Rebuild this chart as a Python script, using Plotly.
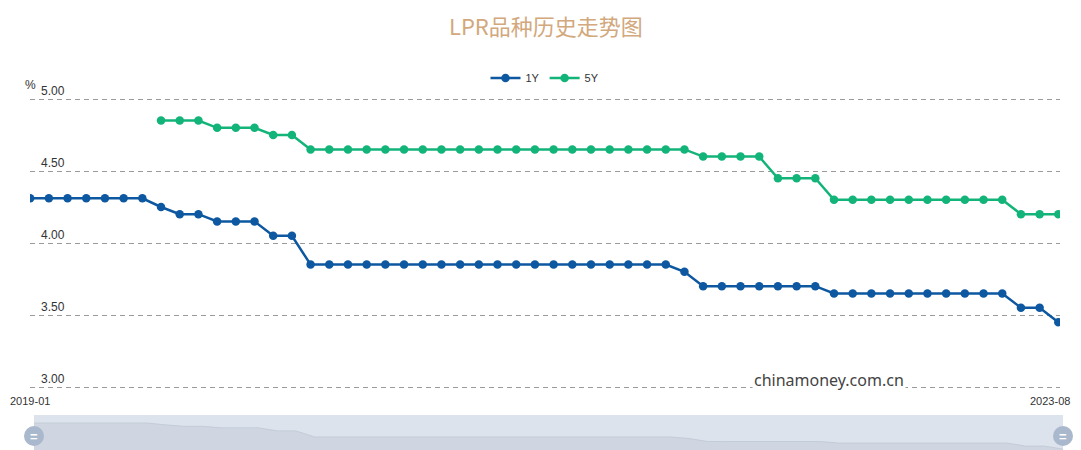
import pandas as pd
import plotly.graph_objects as go

# page body has an 8px default margin: figure is sized to fit the 1081x450 window
OFF = 8
W, H = 1081 - OFF, 450 - OFF


def px(x):
    return (x - OFF) / W


def py(y):
    return 1 - (y - OFF) / H


months = [d.strftime("%Y-%m") for d in pd.date_range("2019-01-01", "2023-08-01", freq="MS")]

lpr_1y = [4.31, 4.31, 4.31, 4.31, 4.31, 4.31, 4.31,
          4.25, 4.20, 4.20, 4.15, 4.15, 4.15, 4.05, 4.05,
          3.85, 3.85, 3.85, 3.85, 3.85, 3.85, 3.85, 3.85, 3.85, 3.85,
          3.85, 3.85, 3.85, 3.85, 3.85, 3.85, 3.85, 3.85, 3.85, 3.85,
          3.80,
          3.70, 3.70, 3.70, 3.70, 3.70, 3.70, 3.70,
          3.65, 3.65, 3.65, 3.65, 3.65, 3.65, 3.65, 3.65, 3.65, 3.65,
          3.55, 3.55, 3.45]

lpr_5y = [None, None, None, None, None, None, None,
          4.85, 4.85, 4.85, 4.80, 4.80, 4.80, 4.75, 4.75,
          4.65, 4.65, 4.65, 4.65, 4.65, 4.65, 4.65, 4.65, 4.65, 4.65,
          4.65, 4.65, 4.65, 4.65, 4.65, 4.65, 4.65, 4.65, 4.65, 4.65,
          4.65,
          4.60, 4.60, 4.60, 4.60, 4.45, 4.45, 4.45,
          4.30, 4.30, 4.30, 4.30, 4.30, 4.30, 4.30, 4.30, 4.30, 4.30,
          4.20, 4.20, 4.20]

y_ticks = [3.00, 3.50, 4.00, 4.50, 5.00]
y_tick_text = ["3.00", "3.50", "4.00", "4.50", "5.00"]
x_tick_vals = [months[0], months[-1]]

C1 = "#0d58a0"
C5 = "#12b479"
FONT = "Liberation Sans, Arial, sans-serif"

fig = go.Figure()
fig.add_trace(go.Scatter(x=months, y=lpr_1y, name="1Y", mode="lines+markers",
                         line=dict(color=C1, width=2.5), marker=dict(color=C1, size=8.5),
                         xaxis="x", yaxis="y"))
fig.add_trace(go.Scatter(x=months, y=lpr_5y, name="5Y", mode="lines+markers",
                         line=dict(color=C5, width=2.5), marker=dict(color=C5, size=8.5),
                         xaxis="x", yaxis="y"))
# data-zoom shadow
fig.add_trace(go.Scatter(x=months, y=lpr_1y, mode="lines", fill="tozeroy",
                         line=dict(color="#c3ccd9", width=1), fillcolor="#cfd6e1",
                         showlegend=False, hoverinfo="skip", xaxis="x2", yaxis="y2"))

n = len(months)
PAD = 0.01  # y padding so edge grid lines are drawn
ppu = (387 - 99) / 2.0
fig.update_layout(
    width=W, height=H,
    margin=dict(l=0, r=0, t=0, b=0, autoexpand=False),
    paper_bgcolor="white", plot_bgcolor="rgba(0,0,0,0)",
    font=dict(family=FONT, size=12, color="#333"),
    xaxis=dict(domain=[px(30), px(1060)], type="category", range=[-0.01, (n - 1) + 0.09],
               showticklabels=False, showgrid=False, zeroline=False,
               showline=False, ticks="", anchor="y", automargin=False),
    yaxis=dict(domain=[py(387 + PAD * ppu), py(99 - PAD * ppu)],
               range=[3.0 - PAD, 5.0 + PAD],
               tickvals=y_ticks, ticktext=y_tick_text, ticklabelposition="inside top",
               ticklabelstandoff=8, ticklabeloverflow="allow",
               showgrid=True, gridcolor="#9a9a9a", griddash="5px,4px", gridwidth=1,
               zeroline=False, showline=False, ticks="", tickfont=dict(size=12, color="#333"),
               anchor="x", automargin=False),
    xaxis2=dict(domain=[px(34), px(1063)], type="category", range=[0, n - 1],
                showticklabels=False, showgrid=False, zeroline=False, showline=False,
                anchor="y2", automargin=False),
    yaxis2=dict(domain=[0, py(415)], range=[4.31 - 27 / 30.4, 4.31 + 8 / 30.4],
                showticklabels=False,
                showgrid=False, zeroline=False, showline=False, anchor="x2", automargin=False),
    legend=dict(orientation="h", x=px(545), xanchor="center", y=py(78), yanchor="middle",
                font=dict(size=11, color="#333"), itemwidth=30, bgcolor="rgba(0,0,0,0)"),
    showlegend=True,
)

shapes = [
    dict(type="rect", xref="x2 domain", yref="y2 domain", x0=0, x1=1, y0=0, y1=1,
         fillcolor="#dde3ec", line=dict(width=0), layer="below"),
]
for xd in (0, 1):
    shapes.append(dict(type="circle", xref="x2 domain", yref="paper",
                       xsizemode="pixel", ysizemode="pixel", xanchor=xd, yanchor=py(436),
                       x0=-10, x1=10, y0=-10, y1=10,
                       fillcolor="#a9b8cc", line=dict(width=0), layer="above"))
fig.update_layout(shapes=shapes)

annotations = [
    dict(text="LPR品种历史走势图", xref="paper", yref="paper", x=px(546), y=py(25),
         xanchor="center", yanchor="middle", showarrow=False,
         font=dict(family="Noto Sans CJK SC", size=22, color="#d2a87c")),
    dict(text="%", xref="paper", yref="paper", x=px(30), y=py(85),
         xanchor="center", yanchor="middle", showarrow=False,
         font=dict(size=12, color="#333")),
    dict(text="chinamoney.com.cn", xref="paper", yref="paper", x=px(829), y=py(380),
         xanchor="center", yanchor="middle", showarrow=False, bgcolor="white",
         font=dict(family="Noto Sans", size=16, color="#444")),
    # x-axis end labels
    dict(text=x_tick_vals[0], xref="x", yref="paper", x=x_tick_vals[0], y=py(401),
         xanchor="left", xshift=-22, yanchor="middle", showarrow=False,
         font=dict(size=11, color="#333")),
    dict(text=x_tick_vals[1], xref="x", yref="paper", x=x_tick_vals[1], y=py(401),
         xanchor="right", xshift=14, yanchor="middle", showarrow=False,
         font=dict(size=11, color="#333")),
]
for xd in (0, 1):
    annotations.append(dict(text="<b>=</b>", xref="x2 domain", yref="paper", x=xd,
                            y=py(436), xanchor="center", yanchor="middle",
                            showarrow=False, font=dict(size=13, color="white")))
fig.update_layout(annotations=annotations)

fig.write_html("out.html")
